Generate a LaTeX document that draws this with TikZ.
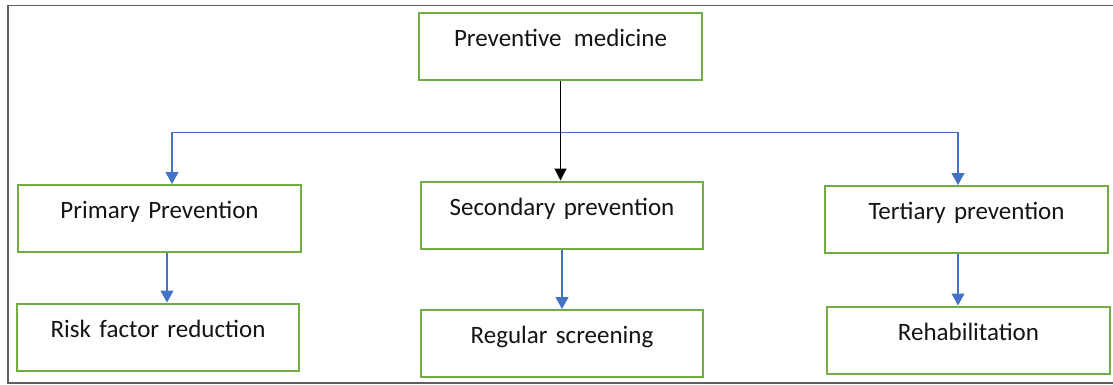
\documentclass[tikz,border=0pt]{standalone}
\usepackage{fontspec}
\setmainfont{Carlito}[WordSpace=0.75]
\usetikzlibrary{arrows.meta}
\definecolor{boxgreen}{RGB}{112,173,71}
\definecolor{linkblue}{RGB}{68,114,196}
\definecolor{framegray}{RGB}{95,95,95}
\definecolor{inktext}{RGB}{20,20,20}
\tikzset{
  stepbox/.style={draw=boxgreen, line width=2pt, rectangle, inner sep=0pt,
    text width=#1, align=center, text height=33.5pt, text depth=33.5pt,
    text=inktext, font=\fontsize{25}{30}\selectfont},
  stepbox/.default=283pt,
  bluelink/.style={draw=linkblue, line width=1.1pt,
    -{Triangle[width=13pt,length=12pt]}},
  blacklink/.style={draw=black, line width=1.2pt,
    -{Triangle[width=12pt,length=12pt]}}
}
\begin{document}
\begin{tikzpicture}[x=1pt,y=-1pt]
\useasboundingbox (0,0) rectangle (1113,385);
% open frame around the chart
\draw[framegray, line width=1.6pt] (1113,5.5) -- (8,5.5) -- (8,383) -- (1113,383);

% boxes
\node[stepbox] (top) at (560.5,46.5) {Preventive\hspace{4pt} medicine};
\node[stepbox] (primary) at (159.5,218.5) {Primary Prevention};
\node[stepbox=282pt] (secondary) at (562,215) {Secondary prevention};
\node[stepbox] (tertiary) at (966.5,219.5) {Tertiary prevention};
\node[stepbox=282pt] (risk) at (158,337) {Risk factor reduction};
\node[stepbox=282pt] (screening) at (562,343.5) {Regular screening};
\node[stepbox] (rehab) at (968.5,340) {Rehabilitation};

% branch bar ends
\coordinate (barL) at (172,132.5);
\coordinate (barR) at (958,132.5);

% connectors
\draw[linkblue, line width=1.1pt, {Triangle[width=13pt,length=12pt]}-{Triangle[width=13pt,length=12pt]}]
  (barL |- primary.north) -- (barL) -- (barR) -- (barR |- tertiary.north);
\draw[blacklink] (top.south) -- (top.south |- secondary.north);
\draw[bluelink] ([xshift=7.5pt]primary.south) -- ([xshift=7.5pt]primary.south |- risk.north);
\draw[bluelink] (secondary.south) -- (secondary.south |- screening.north);
\draw[bluelink] ([xshift=-8.5pt]tertiary.south) -- ([xshift=-8.5pt]tertiary.south |- rehab.north);
\end{tikzpicture}
\end{document}
